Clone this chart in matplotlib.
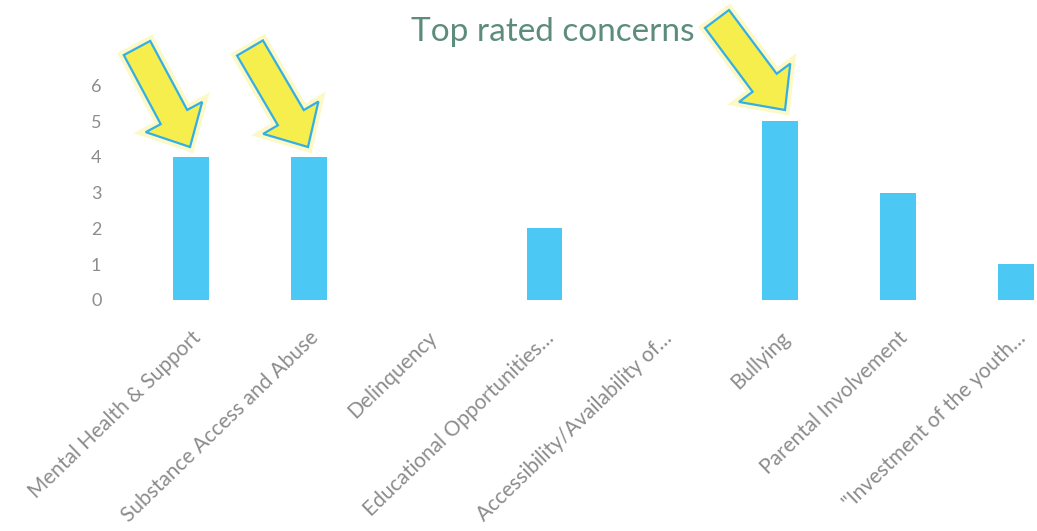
import numpy as np
import matplotlib.pyplot as plt
from matplotlib.patches import Polygon

categories = ["Mental Health & Support", "Substance Access and Abuse", "Delinquency",
              "Educational Opportunities\u2026", "Accessibility/Availability of\u2026",
              "Bullying", "Parental Involvement", "\"Investment of the youth\u2026"]
counts = [4, 4, 0, 2, 0, 5, 3, 1]
y_ticks = [0, 1, 2, 3, 4, 5, 6]

# callout arrows: (tail x, tail y, tip x, tip y) in pixels, origin top-left
arrows = [(137, 48, 190, 147), (250, 48, 308, 147), (717, 19, 785, 110)]

W, H = 1037, 531
plt.rcParams['font.family'] = ['Lato', 'DejaVu Sans']
fig = plt.figure(figsize=(W / 100, H / 100), dpi=100)
ax = fig.add_axes([125 / W, 1 - 300 / H, (W - 125) / W, (300 - 64) / H])

x = np.arange(len(categories))
ax.bar(x, counts, width=0.305, color='#4cc8f4')
ax.set_xlim(-0.56, 7.18)
ax.set_ylim(0, 6.6)
ax.set_yticks(y_ticks)
ax.set_yticklabels([str(t) for t in y_ticks], color='#8c8c8c', fontsize=13)
ax.set_xticks(x)
ax.set_xticklabels(categories, rotation=44, ha='right', va='top',
                   rotation_mode='anchor', color='#8c8c8c', fontsize=15)
ax.tick_params(axis='both', length=0)
ax.tick_params(axis='x', pad=20)
ax.tick_params(axis='y', pad=17)
for s in ax.spines.values():
    s.set_visible(False)

fig.text(553 / W, 1 - 32 / H, "Top rated concerns", ha='center', va='center',
         fontsize=24, color='#5e8c7c')


def arrow_poly(x0, y0, x1, y1, shaft=30, head=64, head_len=34):
    p0 = np.array([x0, y0], float)
    p1 = np.array([x1, y1], float)
    d = p1 - p0
    L = np.hypot(*d)
    u = d / L
    n = np.array([-u[1], u[0]])
    base = p1 - u * head_len
    pts = [p0 + n * shaft / 2, base + n * shaft / 2, base + n * head / 2, p1,
           base - n * head / 2, base - n * shaft / 2, p0 - n * shaft / 2]
    return [(px / W, 1 - py / H) for px, py in pts]


for a in arrows:
    glow = Polygon(arrow_poly(*a), closed=True, transform=fig.transFigure,
                   facecolor='none', edgecolor='#fbf6a0', linewidth=7, alpha=0.6)
    fig.add_artist(glow)
    poly = Polygon(arrow_poly(*a), closed=True, transform=fig.transFigure,
                   facecolor='#f6ee4c', edgecolor='#34aee6', linewidth=1.6)
    fig.add_artist(poly)

fig.savefig('out.png', dpi=100, facecolor='white')
